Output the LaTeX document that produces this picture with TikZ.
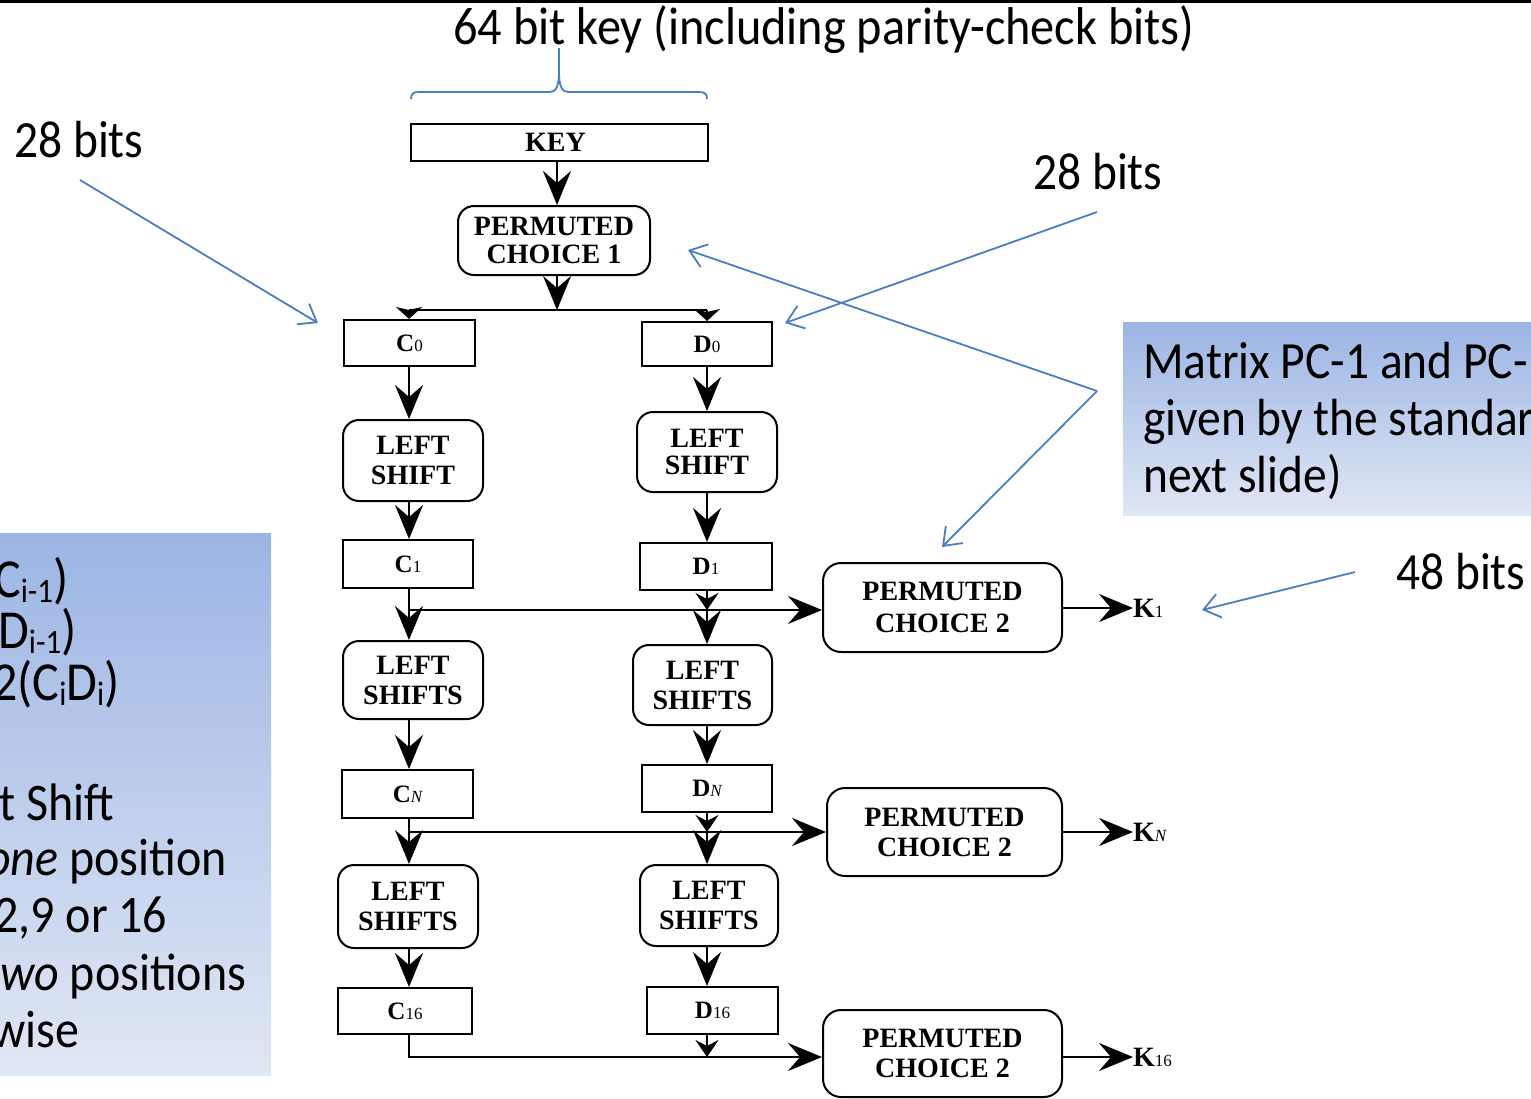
\documentclass[tikz,border=0pt]{standalone}
\usepackage{graphicx}
\usepackage{fontspec}
\setmainfont{Liberation Serif}
\newfontfamily\slidefont{Carlito}
\usetikzlibrary{arrows.meta}

\definecolor{noteblue}{RGB}{74,126,193}
\definecolor{paneltop}{RGB}{156,181,228}
\definecolor{panelbot}{RGB}{224,231,244}

% slide text is set slightly taller than its natural shape
\newcommand\tallx[1]{\scalebox{1}[1.1]{#1}}
% lowered subscript for the slide equations
\newcommand\lsub[1]{\raisebox{-5pt}{\fontsize{31}{31}\selectfont #1}}
% register names: bold letter followed by a small index
\newcommand\reg[2]{{\bfseries #1}{\mdseries\fontsize{17}{17}\selectfont #2}}

\tikzset{
  flow/.style={draw, line width=2pt, fill=white, inner sep=0pt, align=center,
               font=\fontsize{28}{30}\selectfont\bfseries},
  regbox/.style={flow, rectangle, font=\fontsize{25}{25}\selectfont},
  procbox/.style={flow, rounded corners=16pt},
  wire/.style={line width=2pt},
  bigarr/.style={wire, -{Stealth[length=34pt,width=28pt,inset=12pt]}},
  midarr/.style={wire, -{Stealth[length=17pt,width=23pt,inset=6pt]}},
  smallarr/.style={wire, -{Stealth[length=12pt,width=26pt,inset=3pt]}},
  note/.style={draw=noteblue, line width=1.8pt, -{Straight Barb[length=16pt,width=24pt]}},
  notetext/.style={font=\slidefont\fontsize{47.5}{57}\selectfont, anchor=base west, inner sep=0pt},
  eqtext/.style={font=\slidefont\fontsize{50}{50}\selectfont, anchor=base west, inner sep=0pt},
  listtext/.style={font=\slidefont\fontsize{48}{48}\selectfont, anchor=base west, inner sep=0pt},
  klabel/.style={anchor=west, inner sep=0pt, font=\fontsize{28}{28}\selectfont},
}

\begin{document}
\begin{tikzpicture}[x=1pt, y=-1pt]
\useasboundingbox (0,0) rectangle (1531,1098);
\clip (0,0) rectangle (1531,1098);

% rule along the top edge
\fill (0,0) rectangle (1531,3);

% shaded side panels
\shade[top color=paneltop, bottom color=panelbot] (1123,322) rectangle (1545,515);
\shade[top color=paneltop, bottom color=panelbot] (-10,533) rectangle (271,1075);

% key-schedule blocks
\node[regbox, font=\fontsize{28}{28}\selectfont\bfseries, minimum width=297, minimum height=37] (key) at (559.5,142.5) {KEY\hspace*{8pt}};
\node[procbox, minimum width=192, minimum height=69] (pc1) at (554,240.5) {PERMUTED\\[-2pt]CHOICE 1};

\node[regbox, minimum width=131, minimum height=46] (c0) at (409.5,343) {\reg{C}{0}};
\node[regbox, minimum width=130, minimum height=44] (d0) at (707,344) {\reg{D}{0}};

\node[procbox, minimum width=140, minimum height=81] (ls1c) at (413,460.5) {LEFT\\SHIFT};
\node[procbox, minimum width=140, minimum height=80] (ls1d) at (707,452) {LEFT\\[-3pt]SHIFT};

\node[regbox, minimum width=130, minimum height=48] (c1) at (408,564) {\reg{C}{1}};
\node[regbox, minimum width=132, minimum height=47] (d1) at (706,566.5) {\reg{D}{1}};

\node[procbox, rounded corners=18pt, minimum width=239, minimum height=89] (pc2a) at (942.5,607.5) {PERMUTED\\[2pt]CHOICE 2};

\node[procbox, minimum width=140, minimum height=78] (ls2c) at (413,680) {LEFT\\SHIFTS};
\node[procbox, minimum width=139, minimum height=80] (ls2d) at (702.5,685) {LEFT\\SHIFTS};

\node[regbox, minimum width=131, minimum height=48] (cn) at (407.5,794) {\reg{C}{\itshape N}};
\node[regbox, minimum width=130, minimum height=47] (dn) at (707,788.5) {\reg{D}{\itshape N}};

\node[procbox, rounded corners=18pt, minimum width=235, minimum height=88] (pc2b) at (944.5,832) {PERMUTED\\CHOICE 2};

\node[procbox, minimum width=140, minimum height=83] (ls3c) at (408,906.5) {LEFT\\SHIFTS};
\node[procbox, minimum width=138, minimum height=81] (ls3d) at (709,905.5) {LEFT\\SHIFTS};

\node[regbox, minimum width=134, minimum height=46] (c16) at (405,1011) {\reg{C}{16}};
\node[regbox, minimum width=131, minimum height=47] (d16) at (712.5,1010.5) {\reg{D}{16}};

\node[procbox, rounded corners=18pt, minimum width=239, minimum height=87] (pc2c) at (942.5,1053.5) {PERMUTED\\CHOICE 2};

% round keys
\node[klabel] (k1) at (1133,608) {\reg{K}{1}};
\node[klabel] (kn) at (1133,832) {\reg{K}{\itshape N}};
\node[klabel] (k16) at (1133,1057) {\reg{K}{16}};

% column and junction positions
\coordinate (cc) at (409,0);
\coordinate (dc) at (707,0);
\coordinate (mc) at (557,0);
\coordinate (split) at (557,310);
\coordinate (row1) at (409,610);
\coordinate (row2) at (409,832);
\coordinate (row3) at (409,1057);

% data flow
\draw[bigarr] (key.south -| mc) -- (pc1.north -| mc);
\draw[bigarr] (pc1.south -| mc) -- (split);
\draw[wire] (split -| cc) -- (split -| dc);
\draw[smallarr] (split -| cc) -- (c0.north -| cc);
\draw[smallarr] (split -| dc) -- (d0.north -| dc);

\draw[bigarr] (c0.south -| cc) -- (ls1c.north -| cc);
\draw[bigarr] (d0.south -| dc) -- (ls1d.north -| dc);
\draw[bigarr] (ls1c.south -| cc) -- (c1.north -| cc);
\draw[bigarr] (ls1d.south -| dc) -- (d1.north -| dc);

\draw[bigarr] (c1.south -| cc) -- (row1) -- (row1 -| pc2a.west);
\draw[midarr] (d1.south -| dc) -- (row1 -| dc);
\draw[bigarr] (row1) -- (ls2c.north -| cc);
\draw[bigarr] (row1 -| dc) -- (ls2d.north -| dc);
\draw[bigarr] (k1.west -| pc2a.east) -- (k1.west);

\draw[bigarr] (ls2c.south -| cc) -- (cn.north -| cc);
\draw[bigarr] (ls2d.south -| dc) -- (dn.north -| dc);
\draw[bigarr] (cn.south -| cc) -- (row2) -- (row2 -| pc2b.west);
\draw[midarr] (dn.south -| dc) -- (row2 -| dc);
\draw[bigarr] (row2) -- (ls3c.north -| cc);
\draw[bigarr] (row2 -| dc) -- (ls3d.north -| dc);
\draw[bigarr] (kn.west -| pc2b.east) -- (kn.west);

\draw[bigarr] (ls3c.south -| cc) -- (c16.north -| cc);
\draw[bigarr] (ls3d.south -| dc) -- (d16.north -| dc);
\draw[bigarr] (c16.south -| cc) -- (row3) -- (row3 -| pc2c.west);
\draw[midarr] (d16.south -| dc) -- (row3 -| dc);
\draw[bigarr] (k16.west -| pc2c.east) -- (k16.west);

% title and brace over the key
\node[notetext, font=\slidefont\fontsize{48.3}{48}\selectfont] (title) at (453,44) {\tallx{64 bit key (including parity-check bits)}};
\draw[noteblue, line width=1.8pt] (411,99) .. controls (411,94) and (413,92) .. (419,92) -- (550,92)
  .. controls (556,92) and (559,86) .. (559,72) -- (559,48);
\draw[noteblue, line width=1.8pt] (707,99) .. controls (707,94) and (705,92) .. (699,92) -- (568,92)
  .. controls (562,92) and (559,86) .. (559,72);

% bit-width notes
\node[notetext] (cbits) at (14,157) {\tallx{28 bits}};
\node[notetext] (dbits) at (1033,189) {\tallx{28 bits}};
\node[notetext] (kbits) at (1396,589) {\tallx{48 bits}};

\coordinate (cbitsfrom) at (80,180);
\coordinate (cbitsto) at (318,323);
\coordinate (dbitsfrom) at (1097,212);
\coordinate (dbitsto) at (785,323);
\coordinate (hub) at (1097,391);
\coordinate (pc1to) at (688,250);
\coordinate (pc2to) at (942,547);
\coordinate (kbitsfrom) at (1355,572);
\coordinate (kbitsto) at (1202,610);

\draw[note] (cbitsfrom) -- (cbitsto);
\draw[note] (dbitsfrom) -- (dbitsto);
\draw[note] (hub) -- (pc1to);
\draw[note] (hub) -- (pc2to);
\draw[note] (kbitsfrom) -- (kbitsto);

% right panel text
\node[notetext] (m1) at (1143,378) {\tallx{Matrix PC-1 and PC-}};
\node[notetext] (m2) at (1143,435) {\tallx{given by the standar}};
\node[notetext] (m3) at (1143,492) {\tallx{next slide)}};

% left panel text
\node[eqtext] (e1) at (-6,597) {\tallx{C\lsub{i-1})}};
\node[eqtext] (e2) at (-2,648) {\tallx{D\lsub{i-1})}};
\node[eqtext] (e3) at (-8,700) {\tallx{2(C\lsub{i}D\lsub{i})}};
\node[listtext] (l1) at (-1,820) {\tallx{t Shift}};
\node[listtext] (l2) at (-14,875) {\tallx{\textit{one} position}};
\node[listtext] (l3) at (-6,932) {\tallx{2,9 or 16}};
\node[listtext] (l4) at (0,990) {\tallx{\textit{wo} positions}};
\node[listtext] (l5) at (-9,1047) {\tallx{wise}};
\end{tikzpicture}
\end{document}
